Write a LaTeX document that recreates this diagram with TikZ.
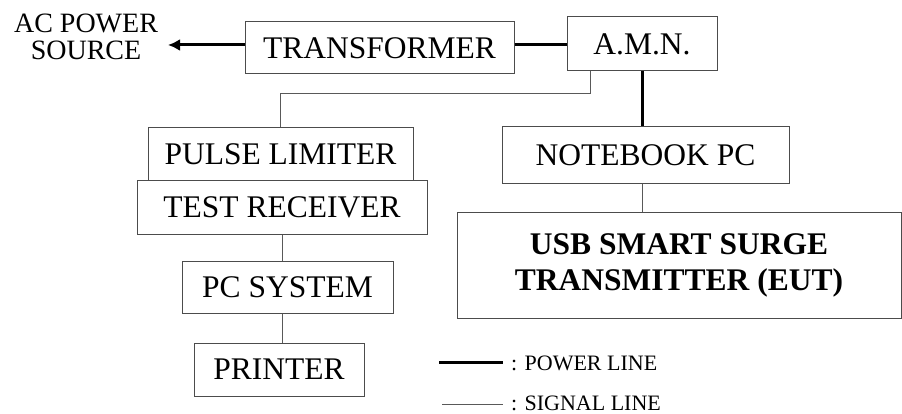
\documentclass[tikz,border=0pt]{standalone}
\usepackage{fontspec}
\setmainfont{Liberation Serif}
\usetikzlibrary{arrows.meta}
\begin{document}
\begin{tikzpicture}[x=1pt,y=-1pt,
  box/.style={draw=black!70,line width=1pt,rectangle,inner sep=0pt,
    font=\fontsize{31.5}{36}\selectfont},
  power/.style={line width=3pt,black},
  signal/.style={line width=1pt,black!65},
  legtext/.style={font=\fontsize{22}{24}\selectfont,anchor=base west,inner sep=0pt}]
\useasboundingbox (0,0) rectangle (902,414);
\node[box,minimum width=269pt,minimum height=52pt] (trans) at (379.5,48) {TRANSFORMER};
\node[box,minimum width=150pt,minimum height=54pt] (amn) at (642,44) {A.M.N.};
\node[box,minimum width=265pt,minimum height=53pt] (pulse) at (280.5,154.5) {PULSE LIMITER};
\node[box,minimum width=290pt,minimum height=53pt] (test) at (282,207.5) {TEST RECEIVER};
\node[box,minimum width=211pt,minimum height=52pt] (pcsys) at (287.5,287) {PC SYSTEM};
\node[box,minimum width=170pt,minimum height=53pt] (printer) at (279,369.5) {PRINTER};
\node[box,minimum width=287pt,minimum height=57pt] (nb) at (645.5,155.5) {NOTEBOOK PC};
\node[box,minimum width=444pt,minimum height=105pt,align=center,
  font=\fontsize{31.5}{36}\selectfont\bfseries] (usb) at (679,265.5) {USB SMART SURGE\\TRANSMITTER (EUT)};
\node[align=center,inner sep=0pt,font=\fontsize{28}{27}\selectfont] (ac) at (86,37) {AC POWER\\SOURCE};
\coordinate (actip) at (168,45);
% power lines
\draw[power,-{Latex[length=12pt,width=12pt]}] (trans.west |- actip) -- (actip);
\draw[power] (trans.east |- 0,45) -- (amn.west |- 0,45);
\draw[power] (amn.south) -- (amn.south |- nb.north);
% signal lines
\draw[signal] ([xshift=24pt]amn.south west) -- ++(0,22) -| (pulse.north);
\draw[signal] (amn.south |- nb.south) -- (amn.south |- usb.north);
\draw[signal] (test.south) -- (test.south |- pcsys.north);
\draw[signal] (test.south |- pcsys.south) -- (test.south |- printer.north);
% legend
\coordinate (lp1) at (439,362);
\coordinate (lp2) at (503,362);
\coordinate (ls1) at (442,404);
\coordinate (ls2) at (503,404);
\draw[power] (lp1) -- (lp2);
\draw[signal] (ls1) -- (ls2);
\node[legtext] (lpt) at (511,370) {: POWER LINE};
\node[legtext] (lst) at (511,410.5) {: SIGNAL LINE};
\end{tikzpicture}
\end{document}
